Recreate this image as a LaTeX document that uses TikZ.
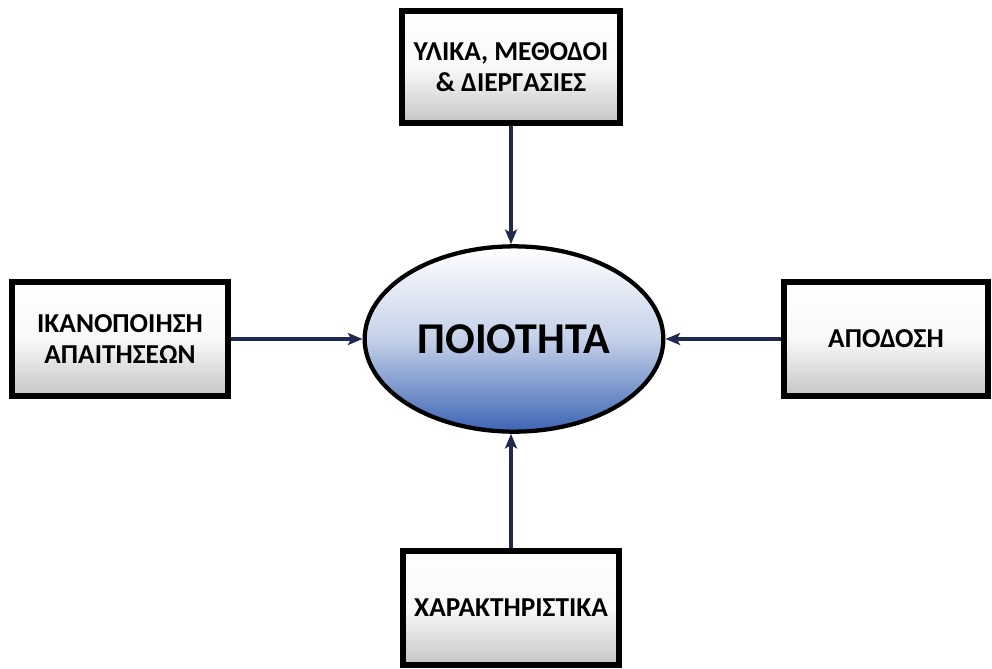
\documentclass[tikz,border=0pt]{standalone}
\usepackage{fontspec}
\setmainfont{Carlito}
\usetikzlibrary{arrows.meta,shapes.geometric,shadows}
\definecolor{navy}{RGB}{31,42,78}
\definecolor{qblue}{RGB}{60,100,180}
\begin{document}
\begin{tikzpicture}[x=0.75pt,y=-0.75pt,
    factor/.style={draw=black,line width=4.5pt,align=center,font=\bfseries\fontsize{20.5}{23}\selectfont,
      top color=white,bottom color=gray!45,middle color=white!95!gray,
      drop shadow={shadow xshift=1.5pt,shadow yshift=-1.5pt,opacity=0.35}},
    quality/.style={ellipse,draw=black,line width=3.2pt,font=\bfseries\fontsize{33}{38}\selectfont,
      top color=white,bottom color=qblue,middle color=qblue!30,
      minimum width=224pt,minimum height=139pt},
    link/.style={navy,line width=2.8pt,-{Stealth[length=11pt,width=9pt,inset=2.5pt]}}]

    \useasboundingbox (0,0) rectangle (992,668);

    \node[quality] (q) at (514,339) {ΠΟΙΟΤΗΤΑ};

    \node[factor,minimum width=163pt,minimum height=84pt] (top) at (511,67) {ΥΛΙΚΑ, ΜΕΘΟΔΟΙ\\\& ΔΙΕΡΓΑΣΙΕΣ};
    \node[factor,minimum width=162pt,minimum height=85pt] (left) at (120,339) {ΙΚΑΝΟΠΟΙΗΣΗ\\ΑΠΑΙΤΗΣΕΩΝ};
    \node[factor,minimum width=153pt,minimum height=85pt] (right) at (886,339) {ΑΠΟΔΟΣΗ};
    \node[factor,minimum width=162pt,minimum height=85pt] (bottom) at (511,608) {ΧΑΡΑΚΤΗΡΙΣΤΙΚΑ};

    \draw[link] (top.south) -- (top.south |- q.north);
    \draw[link] (bottom.north) -- (bottom.north |- q.south);
    \draw[link] (left.east) -- (q.west);
    \draw[link] (right.west) -- (q.east);

\end{tikzpicture}
\end{document}
